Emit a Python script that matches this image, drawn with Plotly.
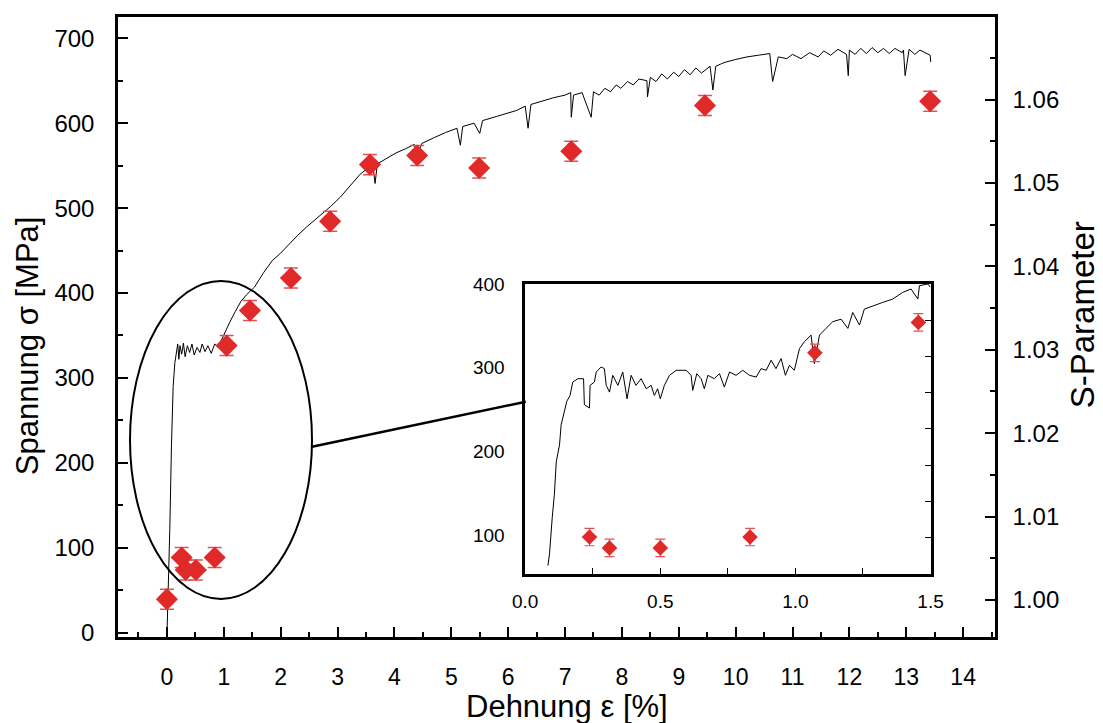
import plotly.graph_objects as go

# ---- tensile curve (main panel), strain [%] vs stress [MPa] ----------------
curve_x = [0.0, 0.02, 0.05, 0.08, 0.11, 0.14, 0.17, 0.19, 0.21, 0.23, 0.26, 0.29,
           0.32, 0.36, 0.40, 0.44, 0.48, 0.53, 0.58, 0.62, 0.67, 0.72, 0.78, 0.84,
           0.90, 0.96, 1.00, 1.05, 1.10, 1.20, 1.30, 1.40, 1.54, 1.70, 1.85, 2.00,
           2.15, 2.30, 2.46, 2.60, 2.75, 2.88, 3.05, 3.20, 3.40, 3.57, 3.62, 3.66,
           3.70, 3.85, 4.03, 4.20, 4.35, 4.40, 4.48, 4.70, 4.90, 5.10, 5.16, 5.20,
           5.40, 5.50, 5.55, 5.80, 6.00, 6.15, 6.30, 6.35, 6.40, 6.60, 6.80, 7.00,
           7.10, 7.11, 7.15, 7.30, 7.46, 7.50, 7.60, 7.70, 7.80, 7.90, 7.98, 8.10,
           8.20, 8.30, 8.44, 8.45, 8.50, 8.60, 8.70, 8.80, 8.91, 9.00, 9.10, 9.20,
           9.30, 9.40, 9.55, 9.60, 9.65, 9.75, 9.83, 10.00, 10.20, 10.40, 10.60,
           10.65, 10.75, 10.90, 11.00, 11.15, 11.30, 11.45, 11.55, 11.67, 11.80,
           11.95, 11.98, 12.00, 12.10, 12.20, 12.30, 12.40, 12.50, 12.60, 12.70,
           12.80, 12.93, 12.95, 12.98, 13.05, 13.15, 13.24, 13.35, 13.42, 13.43]
curve_s = [-5, 40, 120, 220, 290, 318, 333, 340, 322, 338, 328, 341,
           325, 338, 330, 340, 327, 336, 330, 340, 331, 338, 329, 340,
           336, 345, 350, 358, 365, 378, 390, 398, 407, 424, 438, 447,
           458, 468, 478, 486, 495, 502, 513, 525, 540, 549, 552, 529,
           552, 558, 565, 570, 575, 562, 576, 583, 589, 594, 574, 596,
           600, 588, 603, 608, 612, 615, 620, 594, 622, 626, 630, 633,
           636, 607, 633, 636, 607, 637, 633, 641, 637, 645, 641, 649,
           645, 652, 650, 631, 654, 649, 658, 652, 660, 655, 663, 657,
           665, 659, 667, 639, 667, 670, 672, 675, 678, 680, 682,
           649, 678, 676, 681, 676, 683, 678, 685, 680, 687,
           681, 656, 686, 681, 688, 682, 689, 683, 688, 682,
           688, 683, 686, 656, 687, 681, 686, 682, 680, 672, 662]

# ---- S-parameter points (red diamonds) --------------------------------------
s_x = [0.0, 0.26, 0.33, 0.51, 0.84, 1.05, 1.46, 2.18, 2.87, 3.57, 4.40, 5.49,
       7.11, 9.46, 13.42]
s_val = [1.0001, 1.0051, 1.0036, 1.0036, 1.0051, 1.0305, 1.0347, 1.0386,
         1.0454, 1.0522, 1.0533, 1.0518, 1.0538, 1.0593, 1.0598]
s_err = [0.0012] * len(s_val)

# ---- inset: zoom on the yield region ----------------------------------------
inset_x = [0.084, 0.09, 0.10, 0.108, 0.115, 0.127, 0.133, 0.145, 0.154, 0.166,
           0.176, 0.195, 0.216, 0.219, 0.238, 0.24, 0.256, 0.263, 0.281, 0.293,
           0.30, 0.312, 0.324, 0.343, 0.361, 0.377, 0.392, 0.41, 0.429, 0.448,
           0.466, 0.478, 0.49, 0.50, 0.515, 0.534, 0.559, 0.596, 0.614, 0.62,
           0.635, 0.651, 0.663, 0.676, 0.70, 0.719, 0.737, 0.756, 0.78, 0.805,
           0.83, 0.855, 0.873, 0.892, 0.91, 0.928, 0.947, 0.963, 0.978, 0.996,
           1.015, 1.033, 1.058, 1.07, 1.089, 1.113, 1.138, 1.169, 1.194, 1.212,
           1.237, 1.255, 1.286, 1.323, 1.36, 1.397, 1.428, 1.453, 1.459, 1.49, 1.5]
inset_s = [64, 78, 121, 149, 188, 208, 232, 248, 260, 267,
           283, 287, 287, 256, 252, 279, 283, 295, 301, 299,
           279, 271, 291, 279, 295, 263, 291, 279, 287, 275,
           279, 267, 275, 263, 279, 291, 297, 297, 291, 273,
           293, 287, 275, 291, 287, 293, 277, 295, 291, 297,
           291, 289, 299, 297, 309, 299, 311, 291, 303, 297,
           323, 331, 339, 305, 339, 347, 355, 358, 347, 366,
           351, 370, 374, 378, 382, 390, 394, 382, 398, 400, 396]
inset_pt_x = [0.238, 0.312, 0.50, 0.832, 1.072, 1.455]
inset_pt_s = [1.0051, 1.0036, 1.0036, 1.0051, 1.0305, 1.0347]
inset_pt_err = [0.0012] * len(inset_pt_s)

RED = "#e02a2a"
FONT = "Liberation Sans, Arial, sans-serif"

fig = go.Figure()
fig.add_trace(go.Scatter(x=curve_x, y=curve_s, mode="lines",
                         line=dict(color="black", width=1), xaxis="x", yaxis="y"))
fig.add_trace(go.Scatter(x=s_x, y=s_val, mode="markers", xaxis="x", yaxis="y2",
                         marker=dict(symbol="diamond", size=17, color=RED),
                         error_y=dict(type="data", array=s_err, color="#e85050",
                                      thickness=1.5, width=7)))
fig.add_trace(go.Scatter(x=inset_x, y=inset_s, mode="lines",
                         line=dict(color="black", width=1), xaxis="x2", yaxis="y3"))
fig.add_trace(go.Scatter(x=inset_pt_x, y=inset_pt_s, mode="markers", xaxis="x2", yaxis="y4",
                         marker=dict(symbol="diamond", size=12, color=RED),
                         error_y=dict(type="data", array=inset_pt_err, color="#e85050",
                                      thickness=1.2, width=5)))

axis_common = dict(showline=True, linecolor="black", showgrid=False, zeroline=False,
                   ticks="inside", tickcolor="black", automargin=False)

# the page body adds an 8px margin, so the figure is 8px smaller than the window
fig.update_layout(
    width=1095, height=715, showlegend=False,
    paper_bgcolor="white", plot_bgcolor="white",
    margin=dict(l=110, r=108, t=9, b=86),
    font=dict(family=FONT, color="black", size=20),
    xaxis=dict(axis_common, range=[-0.86, 14.56], dtick=1, tick0=0, mirror=True,
               linewidth=2.5, ticklen=10, tickwidth=1.5,
               minor=dict(ticks="inside", dtick=0.5, tick0=0, ticklen=5, tickcolor="black"),
               tickfont=dict(size=23), ticklabelstandoff=18),
    yaxis=dict(axis_common, range=[-5, 725], dtick=100, tick0=0, mirror=True,
               linewidth=2.5, ticklen=10, tickwidth=1.5,
               minor=dict(ticks="inside", dtick=50, tick0=0, ticklen=5, tickcolor="black"),
               tickfont=dict(size=24), ticklabelstandoff=16),
    yaxis2=dict(axis_common, overlaying="y", side="right", anchor="x",
                range=[0.99556, 1.0699], dtick=0.01, tick0=1.0, tickformat=".2f",
                linewidth=2.5, ticklen=10, tickwidth=1.5,
                minor=dict(ticks="inside", dtick=0.005, tick0=1.0, ticklen=5, tickcolor="black"),
                tickfont=dict(size=24), ticklabelstandoff=10),
    xaxis2=dict(axis_common, domain=[0.4643, 0.9265], anchor="y3", range=[0, 1.5],
                dtick=0.5, tick0=0, tickformat=".1f", mirror=True, linewidth=2.5,
                ticklen=6, minor=dict(ticks="inside", dtick=0.25, ticklen=6, tickcolor="black"),
                tickfont=dict(size=19), ticklabelstandoff=8),
    yaxis3=dict(axis_common, domain=[0.1016, 0.5694], anchor="x2", range=[54, 400],
                dtick=100, tick0=0, mirror=True, linewidth=2.5, ticks="",
                tickfont=dict(size=19), ticklabelstandoff=14),
    yaxis4=dict(axis_common, overlaying="y3", side="right", anchor="x2",
                range=[1.0, 1.04], dtick=0.005, showticklabels=False,
                linewidth=2.5, ticklen=6),
)

# axis titles
fig.add_annotation(text="Dehnung ε [%]", xref="paper", yref="paper", x=0.512, y=-0.112,
                   xanchor="center", yanchor="middle", showarrow=False, font=dict(size=31))
fig.add_annotation(text="Spannung σ [MPa]", xref="paper", x=-0.103, yref="paper", y=0.47,
                   xanchor="center", yanchor="middle", textangle=-90, showarrow=False,
                   font=dict(size=31))
fig.add_annotation(text="S-Parameter", xref="paper", x=1.1, yref="paper", y=0.52,
                   xanchor="center", yanchor="middle", textangle=-90, showarrow=False,
                   font=dict(size=33))

# ellipse around the yield region and connector to the inset
fig.add_shape(type="circle", xref="x", yref="y", x0=-0.649, x1=2.551, y0=39.8, y1=414.3,
              line=dict(color="black", width=2))
fig.add_shape(type="line", xref="x", yref="y", x0=2.551, y0=219, x1=6.31, y1=272,
              line=dict(color="black", width=2.5))

fig.write_html("out.html")
